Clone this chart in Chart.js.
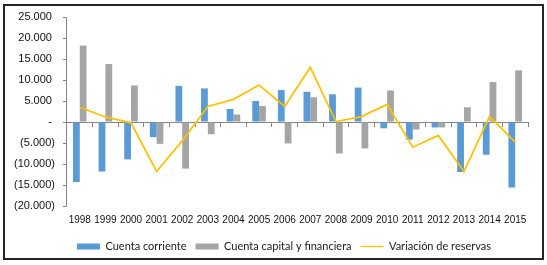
<!DOCTYPE html>
<html>
<head>
<meta charset="utf-8">
<script src="https://cdn.jsdelivr.net/npm/chart.js@4.4.1/dist/chart.umd.min.js"></script>
<style>
  html, body { margin: 0; padding: 0; background: #fff; }
  #wrap { position: relative; width: 547px; height: 265px; }
  #frame { position: absolute; left: 3px; top: 4px; width: 541px; height: 256px; box-sizing: border-box; border: 2px solid #262626; pointer-events: none; }
  canvas { position: absolute; left: 0; top: 0; }
</style>
</head>
<body>
<div id="wrap">
  <canvas id="c" width="547" height="265"></canvas>
  <div id="frame"></div>
</div>
<script>
const years = ['1998','1999','2000','2001','2002','2003','2004','2005','2006','2007','2008','2009','2010','2011','2012','2013','2014','2015'];
const cuentaCorriente = [-14300, -11800, -8900, -3600, 8600, 8000, 3100, 5000, 7600, 7200, 6600, 8200, -1500, -4200, -1300, -11900, -7800, -15600];
const cuentaCapital = [18200, 13800, 8700, -5200, -11100, -2900, 1800, 3800, -5100, 5900, -7500, -6300, 7500, -1800, -1300, 3500, 9500, 12300];
const variacionReservas = [3500, 1200, -200, -11800, -4500, 3700, 5400, 8800, 3700, 13000, 100, 1300, 4200, -6000, -3200, -11800, 1300, -4800];
const seriesNames = ['Cuenta corriente', 'Cuenta capital y financiera', 'Variación de reservas'];
const yMin = -20000, yMax = 25000, yStep = 5000;

function fmt(n) {
  return String(n).replace(/\B(?=(\d{3})+(?!\d))/g, '.');
}
function yLabel(v) {
  if (v === 0) return '- ';
  if (v < 0) return '(' + fmt(-v) + ')';
  return fmt(v) + ' ';
}

const axisGray = '#868686';

const legendShift = {
  id: 'legendShift',
  afterLayout(chart) {
    const lg = chart.legend;
    if (lg) { lg.left += 17; lg.right += 17; lg.top -= 3; lg.bottom -= 3; }
  }
};

new Chart(document.getElementById('c'), {
  type: 'bar',
  data: {
    labels: years,
    datasets: [
      { type: 'bar', label: seriesNames[0], data: cuentaCorriente, backgroundColor: '#5B9BD5', borderWidth: 0, pointStyle: 'rect', order: 1, barPercentage: 1, categoryPercentage: 0.53 },
      { type: 'bar', label: seriesNames[1], data: cuentaCapital, backgroundColor: '#A5A5A5', borderWidth: 0, pointStyle: 'rect', order: 1, barPercentage: 1, categoryPercentage: 0.53 },
      { type: 'line', label: seriesNames[2], data: variacionReservas, borderColor: '#FFC000', backgroundColor: '#FFC000', borderWidth: 1.75, pointRadius: 0, pointHoverRadius: 0, pointStyle: 'line', tension: 0, fill: false, order: 0 }
    ]
  },
  plugins: [legendShift],
  options: {
    responsive: false,
    animation: false,
    events: [],
    layout: { padding: { left: 6, right: 19, top: 17, bottom: 0 } },
    plugins: {
      tooltip: { enabled: false },
      legend: {
        position: 'bottom',
        labels: {
          usePointStyle: true,
          pointStyleWidth: 23,
          boxHeight: 6,
          padding: 9,
          color: '#1a1a1a',
          font: { family: 'Lato, "Open Sans", sans-serif', size: 11 },
          sort: (a, b) => a.datasetIndex - b.datasetIndex,
          generateLabels(chart) {
            const items = Chart.defaults.plugins.legend.labels.generateLabels(chart);
            items.forEach(it => {
              if (it.datasetIndex === 2) { it.lineWidth = 1.3; it.strokeStyle = '#FFC000'; }
              else { it.lineWidth = 0; }
            });
            return items;
          }
        }
      }
    },
    scales: {
      x: {
        type: 'category',
        offset: true,
        border: { display: false },
        grid: { display: false, offset: true },
        ticks: { color: '#111', font: { family: '"Liberation Sans", Arial, sans-serif', size: 10 }, padding: 0, maxRotation: 0, autoSkip: false },
        afterFit(scale) { scale.height = 29; }
      },
      x2: {
        type: 'category',
        axis: 'x',
        labels: years,
        position: { y: 0 },
        offset: true,
        border: { display: true, color: axisGray, width: 1 },
        grid: { display: true, offset: true, drawOnChartArea: false, drawTicks: true, tickLength: 4, color: axisGray },
        ticks: { display: false }
      },
      y: {
        min: yMin,
        max: yMax,
        border: { display: true, color: axisGray, width: 1 },
        grid: { display: true, drawOnChartArea: false, drawTicks: true, tickLength: 4, color: axisGray },
        ticks: {
          stepSize: yStep,
          color: '#111',
          padding: 8,
          font: { family: '"Liberation Sans", Arial, sans-serif', size: 11 },
          callback: (v) => yLabel(v)
        }
      }
    }
  }
});
</script>
</body>
</html>
